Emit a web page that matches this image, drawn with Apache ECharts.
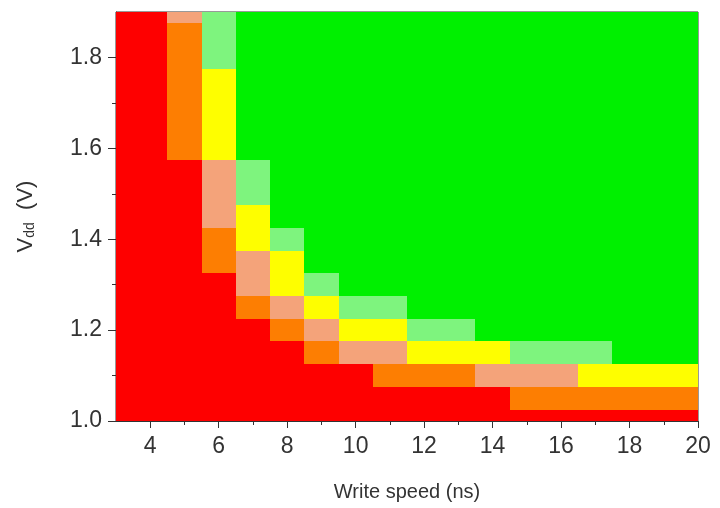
<!DOCTYPE html>
<html>
<head>
<meta charset="utf-8">
<title>Write speed vs Vdd</title>
<script src="https://cdn.jsdelivr.net/npm/echarts@6/dist/echarts.min.js"></script>
<style>
  html, body { margin: 0; padding: 0; background: #fff; }
  #chart { width: 720px; height: 508px; }
</style>
</head>
<body>
<div id="chart"></div>
<script>
// write speed (ns), one cell per ns
const xValues = [3, 4, 5, 6, 7, 8, 9, 10, 11, 12, 13, 14, 15, 16, 17, 18, 19, 20]
// Vdd (V), one cell per 0.05 V
const yValues = [1.0, 1.05, 1.1, 1.15, 1.2, 1.25, 1.3, 1.35, 1.4, 1.45, 1.5, 1.55, 1.6, 1.65, 1.7, 1.75, 1.8, 1.85, 1.9]
// level of each cell, bottom (1.0 V) to top (1.9 V), one list per write speed
// 0 red, 1 orange, 2 salmon, 3 yellow, 4 light green, 5 green
const levels = [
  [0, 0, 0, 0, 0, 0, 0, 0, 0, 0, 0, 0, 0, 0, 0, 0, 0, 0, 0],
  [0, 0, 0, 0, 0, 0, 0, 0, 0, 0, 0, 0, 0, 0, 0, 0, 0, 0, 0],
  [0, 0, 0, 0, 0, 0, 0, 0, 0, 0, 0, 0, 1, 1, 1, 1, 1, 1, 2],
  [0, 0, 0, 0, 0, 0, 0, 1, 1, 2, 2, 2, 3, 3, 3, 3, 4, 4, 4],
  [0, 0, 0, 0, 0, 1, 2, 2, 3, 3, 4, 4, 5, 5, 5, 5, 5, 5, 5],
  [0, 0, 0, 0, 1, 2, 3, 3, 4, 5, 5, 5, 5, 5, 5, 5, 5, 5, 5],
  [0, 0, 0, 1, 2, 3, 4, 5, 5, 5, 5, 5, 5, 5, 5, 5, 5, 5, 5],
  [0, 0, 0, 2, 3, 4, 5, 5, 5, 5, 5, 5, 5, 5, 5, 5, 5, 5, 5],
  [0, 0, 1, 2, 3, 4, 5, 5, 5, 5, 5, 5, 5, 5, 5, 5, 5, 5, 5],
  [0, 0, 1, 3, 4, 5, 5, 5, 5, 5, 5, 5, 5, 5, 5, 5, 5, 5, 5],
  [0, 0, 1, 3, 4, 5, 5, 5, 5, 5, 5, 5, 5, 5, 5, 5, 5, 5, 5],
  [0, 0, 2, 3, 5, 5, 5, 5, 5, 5, 5, 5, 5, 5, 5, 5, 5, 5, 5],
  [0, 1, 2, 4, 5, 5, 5, 5, 5, 5, 5, 5, 5, 5, 5, 5, 5, 5, 5],
  [0, 1, 2, 4, 5, 5, 5, 5, 5, 5, 5, 5, 5, 5, 5, 5, 5, 5, 5],
  [0, 1, 3, 4, 5, 5, 5, 5, 5, 5, 5, 5, 5, 5, 5, 5, 5, 5, 5],
  [0, 1, 3, 5, 5, 5, 5, 5, 5, 5, 5, 5, 5, 5, 5, 5, 5, 5, 5],
  [0, 1, 3, 5, 5, 5, 5, 5, 5, 5, 5, 5, 5, 5, 5, 5, 5, 5, 5],
  [0, 1, 3, 5, 5, 5, 5, 5, 5, 5, 5, 5, 5, 5, 5, 5, 5, 5, 5]
]
const xMajor = [4, 6, 8, 10, 12, 14, 16, 18, 20]
const xMinor = [5, 7, 9, 11, 13, 15, 17, 19]
const yMajor = [1.0, 1.2, 1.4, 1.6, 1.8]
const yMinor = [1.1, 1.3, 1.5, 1.7]

const palette = ['#fe0000', '#fd7e02', '#f4a37a', '#fefe00', '#7ef47e', '#00f000']
const cellW = 1
const cellH = 0.05

const data = []
xValues.forEach((x, i) => {
  yValues.forEach((y, j) => {
    data.push([x, y, levels[i][j]])
  })
})

const font = 'Liberation Sans, Arial, sans-serif'
const chart = echarts.init(document.getElementById('chart'))

const baseX = {
  type: 'value', min: 3, max: 20, interval: 1, position: 'bottom',
  splitLine: { show: false },
  axisLine: { show: true, onZero: false, lineStyle: { color: '#333' } }
}
const baseY = {
  type: 'value', min: 1.0, max: 1.9, interval: 0.1, position: 'left',
  splitLine: { show: false },
  axisLine: { show: true, onZero: false, lineStyle: { color: '#333' } }
}

chart.setOption({
  backgroundColor: '#fff',
  animation: false,
  grid: {
    left: 116, right: 22, top: 12, bottom: 87,
    show: true, borderColor: '#333', borderWidth: 1, backgroundColor: 'transparent'
  },
  xAxis: [
    Object.assign({}, baseX, {
      name: 'Write speed (ns)',
      nameLocation: 'middle',
      nameGap: 61,
      nameTextStyle: { fontFamily: font, fontSize: 20, color: '#333' },
      axisTick: { show: true, length: 7, customValues: xMajor, lineStyle: { color: '#333' } },
      axisLabel: { customValues: xMajor, margin: 14, fontFamily: font, fontSize: 23, color: '#333' }
    }),
    Object.assign({}, baseX, {
      axisLine: { show: false },
      axisTick: { show: true, length: 4, customValues: xMinor, lineStyle: { color: '#333' } },
      axisLabel: { show: false }
    })
  ],
  yAxis: [
    Object.assign({}, baseY, {
      name: '{v|V}{s|dd}  (V)',
      nameLocation: 'middle',
      nameGap: 79,
      nameRotate: 90,
      nameTextStyle: {
        fontFamily: font, fontSize: 22, color: '#333',
        rich: {
          v: { fontFamily: font, fontSize: 22, color: '#333' },
          s: { fontFamily: font, fontSize: 14, color: '#333', verticalAlign: 'bottom', padding: [9, 0, 0, 0] }
        }
      },
      axisTick: { show: true, length: 8, customValues: yMajor, lineStyle: { color: '#333' } },
      axisLabel: {
        customValues: yMajor, margin: 14, fontFamily: font, fontSize: 23, color: '#333',
        formatter: (v) => v.toFixed(1)
      }
    }),
    Object.assign({}, baseY, {
      axisLine: { show: false },
      axisTick: { show: true, length: 4, customValues: yMinor, lineStyle: { color: '#333' } },
      axisLabel: { show: false }
    })
  ],
  series: [{
    type: 'custom',
    xAxisIndex: 0,
    yAxisIndex: 0,
    clip: true,
    data: data,
    renderItem: (params, api) => {
      const x = api.value(0)
      const y = api.value(1)
      const lvl = api.value(2)
      const p0 = api.coord([x - cellW / 2, y + cellH / 2])
      const p1 = api.coord([x + cellW / 2, y - cellH / 2])
      const cs = params.coordSys
      const x0 = Math.round(Math.max(p0[0], cs.x))
      const x1 = Math.round(Math.min(p1[0], cs.x + cs.width))
      const y0 = Math.round(Math.max(p0[1], cs.y))
      const y1 = Math.round(Math.min(p1[1], cs.y + cs.height))
      if (x1 <= x0 || y1 <= y0) return
      return {
        type: 'rect',
        shape: { x: x0, y: y0, width: x1 - x0, height: y1 - y0 },
        style: { fill: palette[lvl], stroke: null }
      }
    },
    z: 1
  }]
})
</script>
</body>
</html>
